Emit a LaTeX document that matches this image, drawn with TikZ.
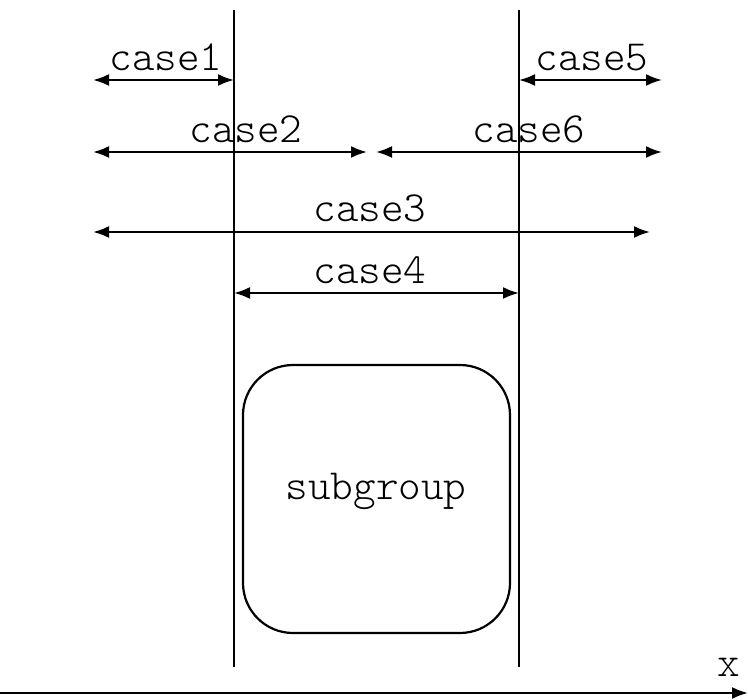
\documentclass[tikz,border=0pt]{standalone}
\usetikzlibrary{arrows.meta}
\begin{document}
\begin{tikzpicture}[x=1pt,y=-1pt,
  line width=2.2pt,
  tip/.style={-{Latex[length=16pt,width=12pt]}},
  dbl/.style={{Latex[length=16pt,width=12pt]}-{Latex[length=16pt,width=12pt]}},
  lbl/.style={font=\ttfamily\fontseries{l}\fontsize{43}{48}\selectfont, inner sep=0pt, anchor=base},
  box/.style={draw, rounded corners=50pt, minimum width=267pt, minimum height=268pt}]
\useasboundingbox (0,0) rectangle (748,700);

% boundary lines of the interval
\coordinate (L0) at (234,10);  \coordinate (L1) at (234,667);
\coordinate (R0) at (519,10);  \coordinate (R1) at (519,667);
\draw (L0) -- (L1);
\draw (R0) -- (R1);

% arrow end points
\coordinate (a1) at (93,80);   \coordinate (b1) at (234,80);
\coordinate (a5) at (519,80);  \coordinate (b5) at (662,80);
\coordinate (a2) at (93,152);  \coordinate (b2) at (367,152);
\coordinate (a6) at (376,152); \coordinate (b6) at (662,152);
\coordinate (a3) at (93,232);  \coordinate (b3) at (650,232);
\coordinate (a4) at (234,293); \coordinate (b4) at (519,293);

\draw[dbl] (a1) -- (b1);
\draw[dbl] (a5) -- (b5);
\draw[dbl] (a2) -- (b2);
\draw[dbl] (a6) -- (b6);
\draw[dbl] (a3) -- (b3);
\draw[dbl] (a4) -- (b4);

\node[lbl] (c1) at (166,71) {case1};
\node[lbl] (c5) at (592,71) {case5};
\node[lbl] (c2) at (246,143) {case2};
\node[lbl] (c6) at (529,143) {case6};
\node[lbl] (c3) at (370,222) {case3};
\node[lbl] (c4) at (370,284) {case4};

% the subgroup
\node[box] (sg) at (376.5,499) {};
\node[lbl] (sgt) at (376,500) {subgroup};

% x axis
\coordinate (x0) at (0,693);
\coordinate (x1) at (748,693);
\draw[tip] (x0) -- (x1);
\node[lbl] (xl) at (729,677) {x};
\end{tikzpicture}
\end{document}
